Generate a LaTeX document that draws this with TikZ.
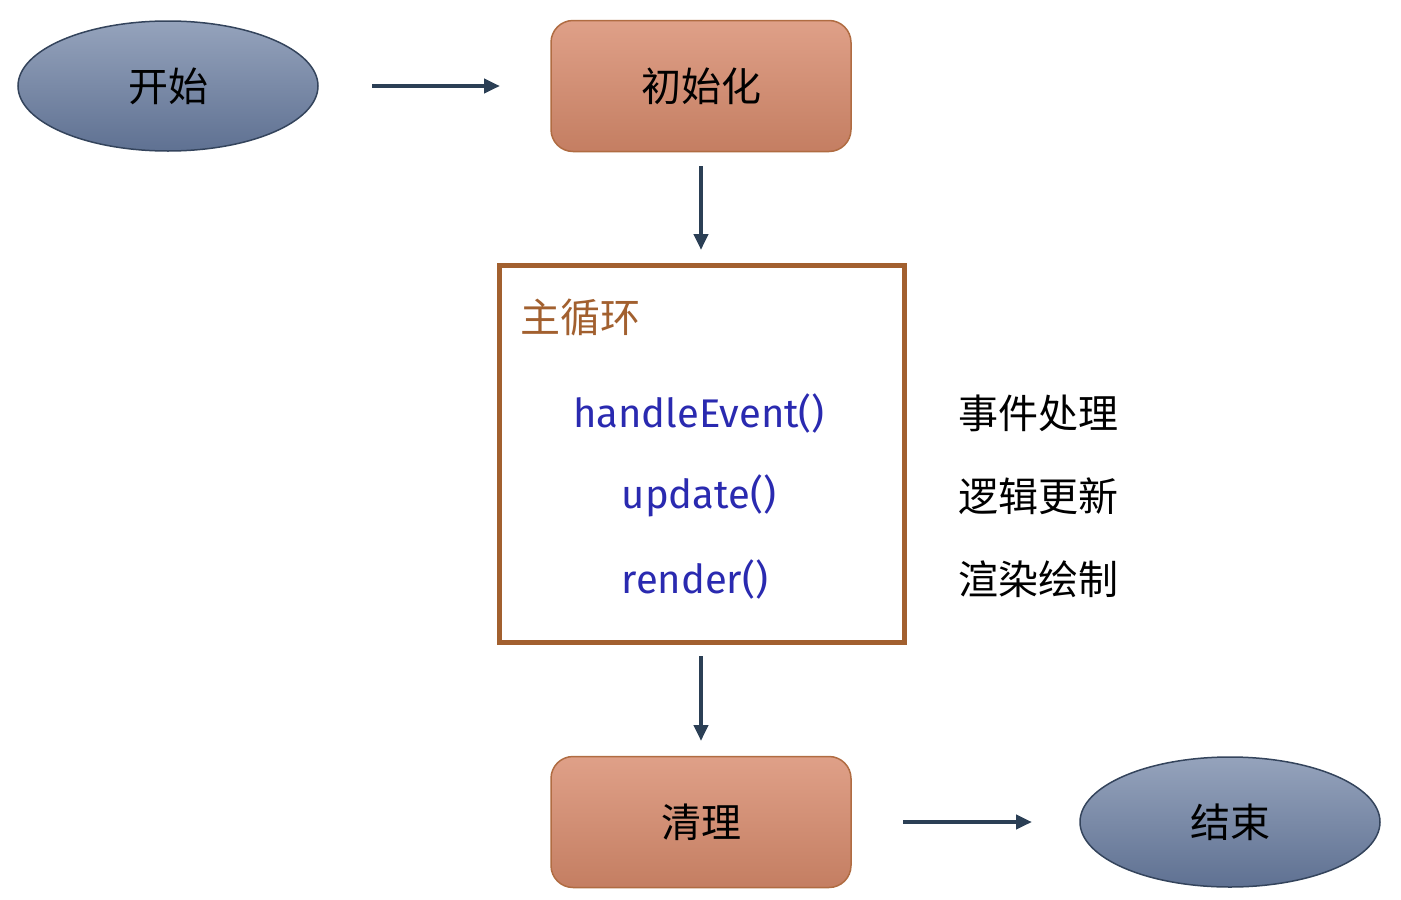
\documentclass[tikz,border=0pt]{standalone}
\usepackage{fontspec}
\setmainfont{Fira Sans}
\newfontfamily\cjk{Noto Sans CJK SC}
\usetikzlibrary{arrows.meta,shapes.geometric}
\definecolor{ellA}{HTML}{95A3BC}
\definecolor{ellB}{HTML}{5F7192}
\definecolor{ellD}{HTML}{34445C}
\definecolor{boxA}{HTML}{DFA088}
\definecolor{boxB}{HTML}{C47E62}
\definecolor{boxD}{HTML}{B06C42}
\definecolor{mainC}{HTML}{A2602F}
\definecolor{arr}{HTML}{2B3F55}
\definecolor{code}{HTML}{2A2AB0}
\begin{document}
\begin{tikzpicture}[x=1pt,y=-1pt,
  ell/.style={ellipse,draw=ellD,line width=1.5pt,top color=ellA,bottom color=ellB,minimum width=300pt,minimum height=130pt,font=\cjk\fontsize{40}{48}\selectfont},
  box/.style={rectangle,rounded corners=22pt,draw=boxD,line width=1.5pt,top color=boxA,bottom color=boxB,minimum width=300pt,minimum height=131pt,font=\cjk\fontsize{40}{48}\selectfont},
  flow/.style={draw=arr,line width=4pt,-{Triangle[length=16pt,width=14pt]}},
  codet/.style={text=code,font=\fontsize{40}{48}\selectfont},
  lab/.style={anchor=west,font=\cjk\fontsize{40}{48}\selectfont}]
\useasboundingbox (0,0) rectangle (1401,900);
\node[ell] (start) at (168,86) {开始};
\node[box] (init) at (701,86) {初始化};
\node[draw=mainC,line width=5pt,fill=white,minimum width=405pt,minimum height=377pt] (main) at (701.5,453.5) {};
\node[anchor=west,text=mainC,font=\cjk\fontsize{40}{48}\selectfont] (title) at (517,317) {主循环};
\node[codet] (he) at (699,413) {handleEvent()};
\node[codet] (up) at (699,496) {update()};
\node[codet] (re) at (695,579) {render()};
\node[lab] (l1) at (955,413) {事件处理};
\node[lab] (l2) at (955,496) {逻辑更新};
\node[lab] (l3) at (955,579) {渲染绘制};
\node[box] (clean) at (701,822) {清理};
\node[ell] (end) at (1230,822) {结束};
\coordinate (a1s) at (372,86); \coordinate (a1e) at (500,86);
\coordinate (a2s) at (701,166); \coordinate (a2e) at (701,250);
\coordinate (a3s) at (701,656); \coordinate (a3e) at (701,741);
\coordinate (a4s) at (903,822); \coordinate (a4e) at (1032,822);
\draw[flow] (a1s) -- (a1e);
\draw[flow] (a2s) -- (a2e);
\draw[flow] (a3s) -- (a3e);
\draw[flow] (a4s) -- (a4e);
\end{tikzpicture}
\end{document}
